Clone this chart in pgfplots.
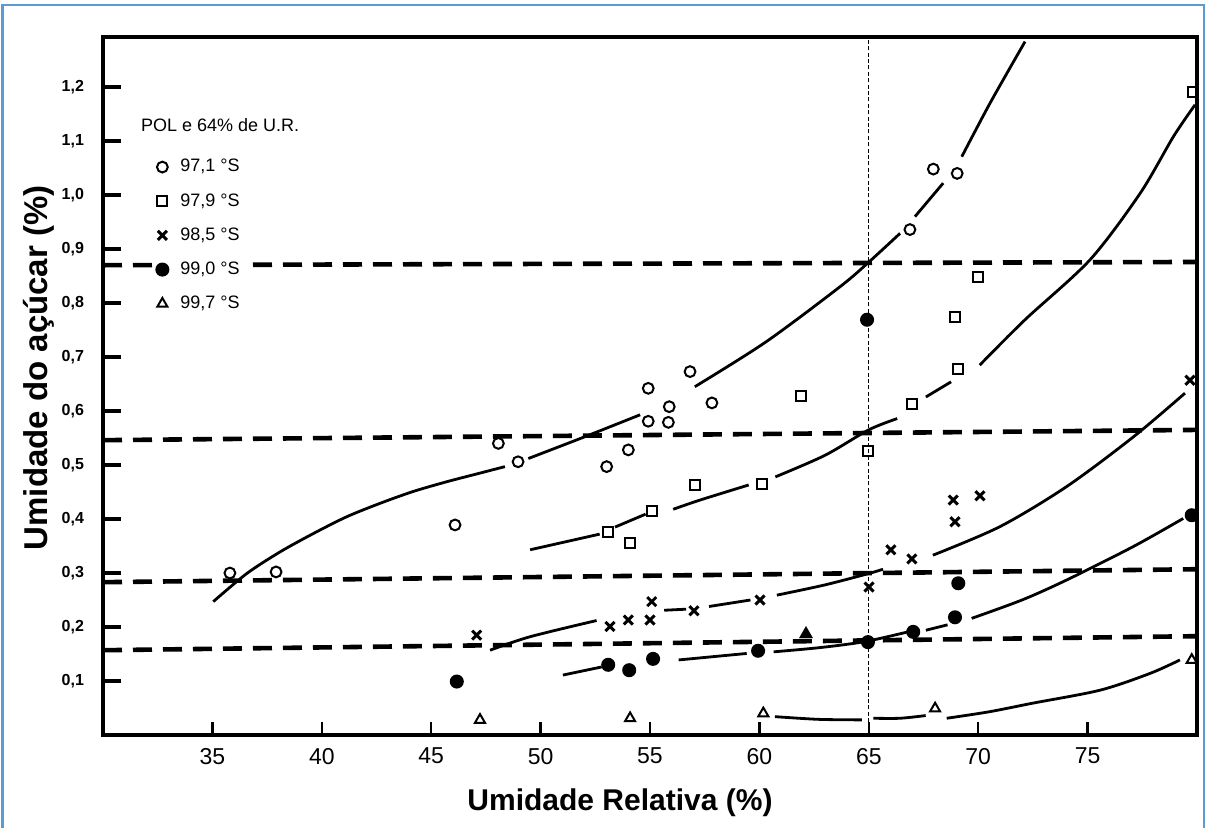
\documentclass[border=0pt]{standalone}
\usepackage{fontspec}
\setmainfont{Liberation Sans}
\usepackage{pgfplots}
\pgfplotsset{compat=1.18}
\definecolor{frameblue}{RGB}{91,155,213}

\pgfplotsset{
  fitline/.style={black, line width=1.4pt, smooth, mark=none, forget plot},
  refdash/.style={black, line width=2.3pt, dash pattern=on 9.5pt off 5.5pt, mark=none, forget plot},
  mk/.style={only marks, black, line width=1pt},
}

\begin{document}
\begin{tikzpicture}
\begin{axis}[
  width=547pt, height=349pt, scale only axis,
  xmin=30, xmax=80, ymin=0, ymax=1.2926,
  axis line style={line width=1.8pt},
  xtick={35,40,45,50,55,60,65,70,75},
  ytick={0.1,0.2,0.3,0.4,0.5,0.6,0.7,0.8,0.9,1.0,1.1,1.2},
  xtick pos=left, ytick pos=left,
  tick align=inside, major tick length=8pt,
  tick style={black, line width=1.4pt},
  xtick style={/pgfplots/major tick length=6.5pt, line width=1.2pt},
  ytick style={/pgfplots/major tick length=9pt, line width=1.6pt},
  /pgf/number format/assume math mode=true,
  xticklabel style={font=\fontsize{11.5}{12}\selectfont, yshift=-3pt},
  yticklabel style={font=\bfseries\fontsize{8}{9}\selectfont, xshift=-6pt,
    /pgf/number format/fixed, /pgf/number format/fixed zerofill,
    /pgf/number format/precision=1, /pgf/number format/use comma},
  xlabel={Umidade Relativa (\%)},
  ylabel={Umidade do açúcar (\%)},
  xlabel style={font=\bfseries\fontsize{15}{16}\selectfont, at={(axis description cs:0.4726,-0.0974)}, anchor=center},
  ylabel style={font=\bfseries\fontsize{16.5}{17}\selectfont, at={(axis description cs:-0.0585,0.526)}, anchor=center},
  legend cell align=left,
  legend style={draw=none, fill=white, font=\fontsize{9}{10}\selectfont,
    at={(axis cs:32.33,1.078)}, anchor=north west, row sep=5.3pt, column sep=4pt, inner sep=1pt},
]

% reference lines
\addplot[refdash] coordinates {(30,0.870) (80,0.876)};
\addplot[refdash] coordinates {(30,0.546) (80,0.565)};
\addplot[refdash] coordinates {(30,0.283) (80,0.307)};
\addplot[refdash] coordinates {(30,0.157) (80,0.183)};
\addplot[black, line width=0.7pt, dash pattern=on 2pt off 1.2pt, forget plot] coordinates {(65,0) (65,1.2926)};

% 97,1
\addplot[fitline] coordinates {(35.04,0.247) (36.57,0.299) (38.09,0.339) (39.61,0.373) (41.13,0.404) (42.66,0.429) (44.18,0.451) (45.71,0.469) (47.23,0.485) (48.37,0.497)};
\addplot[fitline] coordinates {(49.44,0.512) (52,0.552) (54.55,0.593)};
\addplot[fitline] coordinates {(57.05,0.645) (60.3,0.728) (63.68,0.830) (64.98,0.875) (66.43,0.929)};
\addplot[fitline] coordinates {(67.11,0.960) (68.40,1.022)};
\addplot[fitline] coordinates {(69.25,1.071) (70.54,1.170) (72.14,1.284)};

% 97,9
\addplot[fitline] coordinates {(49.52,0.343) (52.7,0.372)};
\addplot[fitline] coordinates {(53.4,0.385) (54.8,0.409)};
\addplot[fitline] coordinates {(56.06,0.418) (57.28,0.435) (59.51,0.463)};
\addplot[fitline] coordinates {(60.73,0.478) (63,0.518) (64.99,0.565) (66.30,0.586)};
\addplot[fitline] coordinates {(67.61,0.626) (68.76,0.654)};
\addplot[fitline] coordinates {(70.07,0.685) (72.14,0.769) (75.11,0.880) (77.40,1.003) (78.92,1.108) (79.91,1.167)};

% 98,5
\addplot[fitline] coordinates {(47.69,0.157) (49.52,0.182) (52.56,0.212)};
\addplot[fitline] coordinates {(55.65,0.231) (56.65,0.233)};
\addplot[fitline] coordinates {(57.70,0.238) (59.59,0.250)};
\addplot[fitline] coordinates {(60.80,0.259) (63,0.278) (64.99,0.299) (65.65,0.307)};
\addplot[fitline] coordinates {(67.93,0.333) (71.00,0.386) (74.04,0.460) (77.09,0.552) (79.45,0.633)};

% 99,0
\addplot[fitline] coordinates {(51.02,0.111) (52.79,0.126)};
\addplot[fitline] coordinates {(56.31,0.139) (59.42,0.151)};
\addplot[fitline] coordinates {(60.65,0.154) (62.8,0.162) (64.83,0.173) (66.79,0.191)};
\addplot[fitline] coordinates {(67.61,0.194) (68.60,0.204)};
\addplot[fitline] coordinates {(69.70,0.216) (72,0.250) (74.04,0.287) (77.09,0.349) (79.37,0.401)};

% 99,7
\addplot[fitline] coordinates {(60.71,0.034) (62.7,0.029) (64.68,0.028)};
\addplot[fitline] coordinates {(65.21,0.031) (66.43,0.031) (67.6,0.036)};
\addplot[fitline] coordinates {(68.56,0.031) (70.5,0.043) (72.50,0.059) (75.57,0.083) (77.85,0.114) (79.22,0.139)};

% measured points
\addplot[mk, mark=o, mark size=2.7pt] coordinates {(35.80,0.300) (37.91,0.302) (46.09,0.389) (48.07,0.540) (48.97,0.506) (53.02,0.497) (54.01,0.528) (54.92,0.642) (54.92,0.581) (55.88,0.608) (55.84,0.579) (56.83,0.673) (57.83,0.615) (66.88,0.936) (67.95,1.048) (69.04,1.040)};
\addlegendentry{97,1 °S}
\addplot[mk, mark=square, mark size=2.5pt] coordinates {(53.09,0.376) (54.09,0.356) (55.08,0.414) (57.06,0.463) (60.12,0.465) (61.90,0.628) (64.96,0.526) (66.97,0.613) (68.94,0.774) (69.08,0.678) (69.99,0.848) (79.83,1.191)};
\addlegendentry{97,9 °S}
\addplot[mk, mark=x, mark size=3.2pt, line width=1.5pt] coordinates {(47.08,0.185) (53.17,0.201) (54.01,0.213) (55.08,0.247) (55.00,0.213) (57.01,0.230) (60.03,0.250) (65.01,0.274) (66.01,0.343) (66.97,0.326) (68.86,0.435) (68.94,0.395) (70.08,0.443) (79.68,0.657)};
\addlegendentry{98,5 °S}
\addplot[mk, mark=*, mark size=3pt] coordinates {(46.17,0.099) (53.09,0.130) (54.05,0.120) (55.14,0.141) (59.94,0.156) (64.92,0.769) (64.96,0.172) (67.03,0.191) (68.94,0.218) (69.09,0.281) (79.76,0.407)};
\addlegendentry{99,0 °S}
\addplot[mk, mark=triangle, mark size=2.9pt] coordinates {(47.23,0.028) (54.09,0.031) (60.18,0.040) (68.03,0.049) (79.76,0.139)};
\addlegendentry{99,7 °S}
\addplot[mk, mark=triangle*, mark size=3pt, forget plot] coordinates {(62.13,0.187)};

\node[font=\fontsize{9}{10}\selectfont] at (axis cs:35.35,1.13) {POL e 64\% de U.R.};
\end{axis}
\pgfresetboundingbox
\path[use as bounding box] (-51.5pt,-46pt) rectangle (552pt,367.5pt);
\draw[frameblue, line width=1.2pt] (-50.2pt,-60pt) -- (-50.2pt,365pt) -- (550.5pt,365pt) -- (550.5pt,-60pt);
\end{tikzpicture}
\end{document}
